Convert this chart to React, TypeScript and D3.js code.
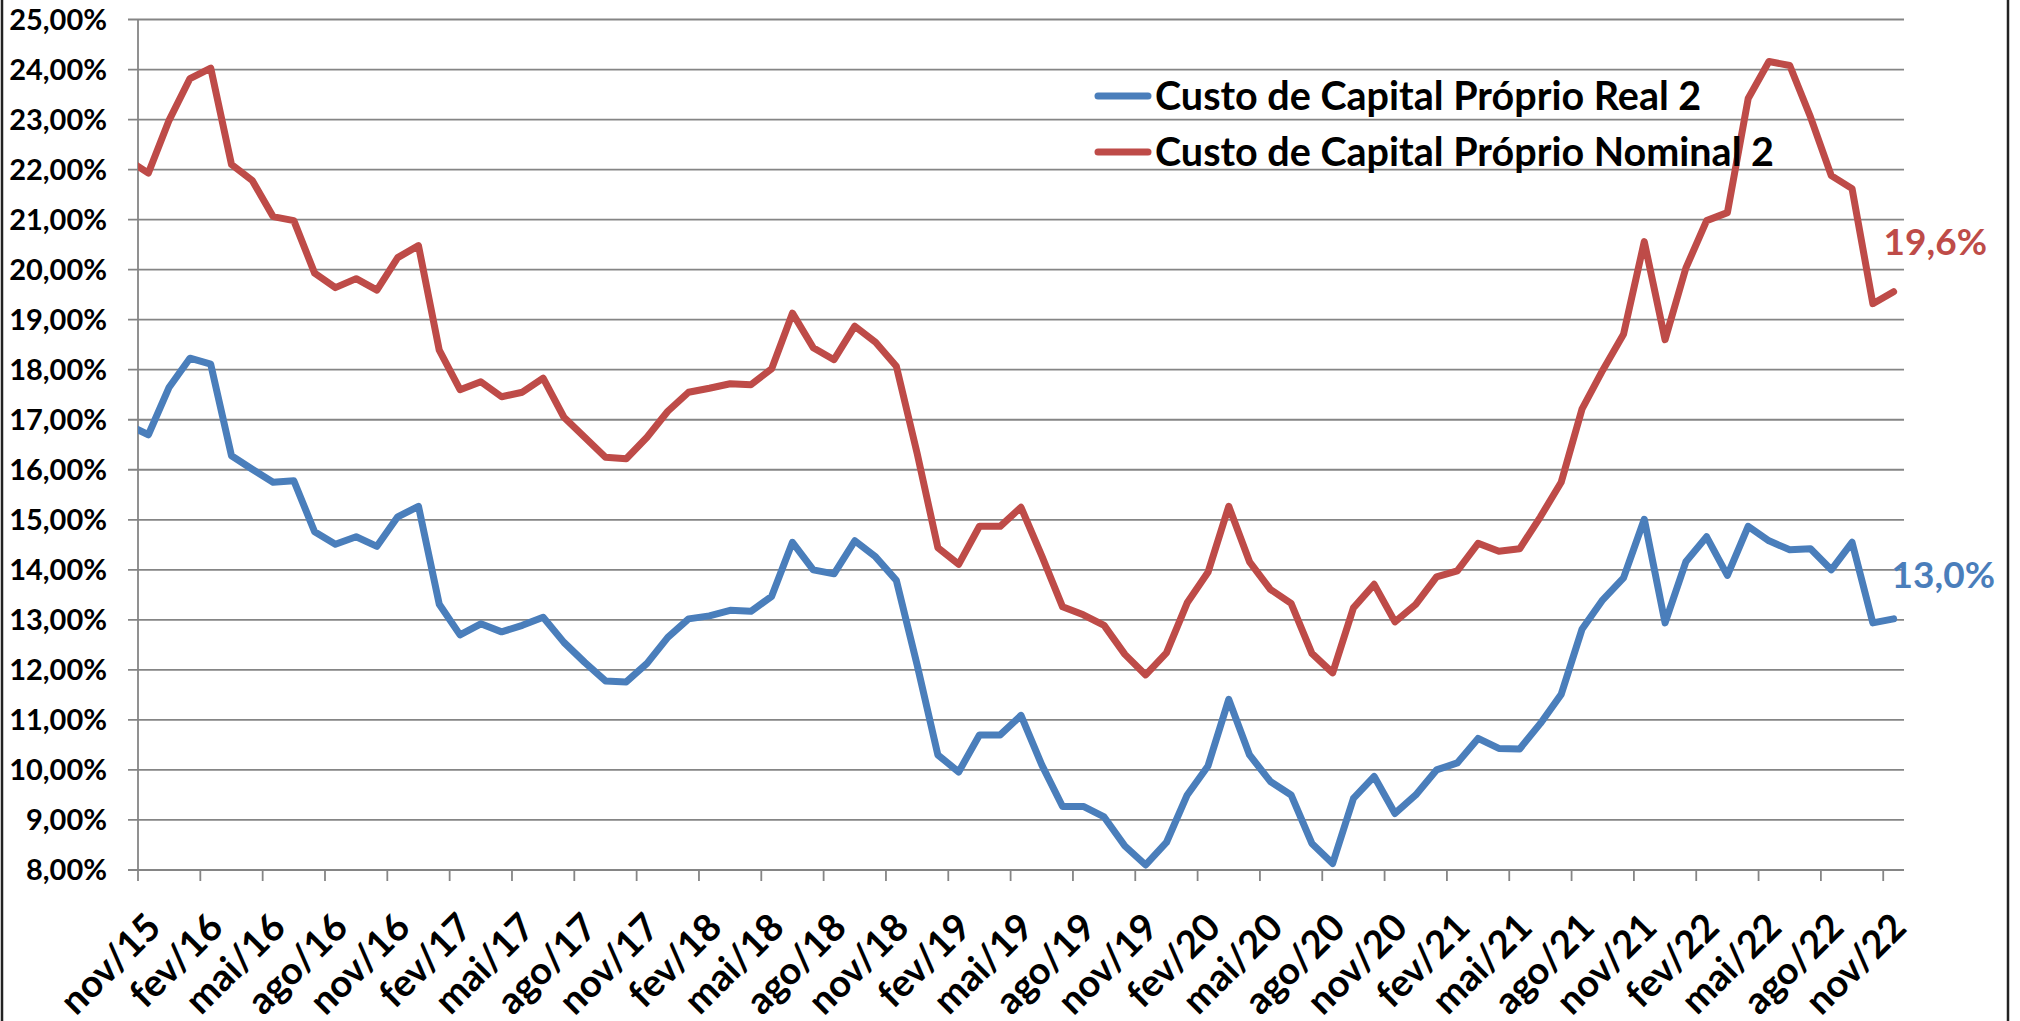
import { line, scaleLinear, format, range } from "d3";

// first value is out/15 (only a clipped stub of it shows at the left edge), then nov/15 .. nov/22
const nominal = [
  22.2, 21.93, 22.99, 23.82, 24.03, 22.1, 21.78, 21.06, 20.98, 19.93, 19.64, 19.82, 19.59,
  20.24, 20.48, 18.39, 17.6, 17.76, 17.46, 17.55, 17.83, 17.05, 16.65, 16.25, 16.22, 16.65,
  17.17, 17.55, 17.63, 17.72, 17.7, 18.02, 19.13, 18.44, 18.2, 18.87, 18.55, 18.07, 16.33,
  14.44, 14.11, 14.87, 14.87, 15.25, 14.28, 13.26, 13.1, 12.89, 12.31, 11.9, 12.34, 13.34,
  13.95, 15.27, 14.16, 13.61, 13.33, 12.33, 11.94, 13.24, 13.71, 12.96, 13.31, 13.86, 13.98,
  14.53, 14.37, 14.42, 15.06, 15.75, 17.21, 17.99, 18.71, 20.56, 18.6, 20.03, 20.98, 21.14,
  23.42, 24.16, 24.08, 23.05, 21.88, 21.62, 19.32, 19.56,
];
const real = [
  16.9, 16.7, 17.65, 18.23, 18.11, 16.28, 16.01, 15.75, 15.78, 14.76, 14.51, 14.66, 14.47,
  15.06, 15.27, 13.31, 12.7, 12.92, 12.76, 12.89, 13.05, 12.55, 12.15, 11.78, 11.76, 12.13,
  12.65, 13.02, 13.08, 13.19, 13.17, 13.47, 14.55, 14.0, 13.92, 14.58, 14.26, 13.79, 12.1,
  10.3, 9.96, 10.7, 10.7, 11.09, 10.1, 9.27, 9.27, 9.06, 8.48, 8.1, 8.55, 9.5, 10.08, 11.41,
  10.3, 9.77, 9.5, 8.53, 8.13, 9.43, 9.87, 9.13, 9.5, 10.0, 10.14, 10.63, 10.43, 10.42,
  10.93, 11.51, 12.81, 13.4, 13.84, 15.01, 12.94, 14.16, 14.66, 13.89, 14.87, 14.58, 14.4,
  14.42, 14.0, 14.55, 12.94, 13.02,
];
const tickLabels = [
  "nov/15", "fev/16", "mai/16", "ago/16", "nov/16", "fev/17", "mai/17", "ago/17", "nov/17",
  "fev/18", "mai/18", "ago/18", "nov/18", "fev/19", "mai/19", "ago/19", "nov/19", "fev/20",
  "mai/20", "ago/20", "nov/20", "fev/21", "mai/21", "ago/21", "nov/21", "fev/22", "mai/22",
  "ago/22", "nov/22",
];
const seriesNames = ["Custo de Capital Próprio Real 2", "Custo de Capital Próprio Nominal 2"];

const W = 2020;
const H = 1021;
const left = 138;
const right = 1904;
const top = 19.5;
const bottom = 870;
const blue = "#4A7EBB";
const red = "#BE4B48";
const grid = "#858585";
const font = "Lato, 'Open Sans', sans-serif";

export default function App() {
  const x = scaleLinear().domain([0.5, 85.5]).range([left, right]);
  const y = scaleLinear().domain([8, 25]).range([bottom, top]);
  const path = line<number>()
    .x((_, i) => x(i))
    .y((d) => y(d));
  const pct = (v: number) => format(".2f")(v).replace(".", ",") + "%";
  const lastLabel = (v: number) => format(".1f")(v).replace(".", ",") + "%";
  const last = nominal.length - 1;

  return (
    <>
      <style>{"body{margin:0}"}</style>
      <svg width={W} height={H} style={{ display: "block", fontFamily: font }}>
        <rect width={W} height={H} fill="white" />
        <defs>
          <clipPath id="plot">
            <rect x={left} y={0} width={right - left} height={H} />
          </clipPath>
        </defs>

        {/* horizontal gridlines + y labels */}
        {range(8, 26).map((v) => (
          <g key={v}>
            <line x1={left - 10} x2={right} y1={y(v)} y2={y(v)} stroke={grid} strokeWidth={1.8} />
            <text
              x={107}
              y={y(v)}
              dy="0.36em"
              textAnchor="end"
              fontSize={29}
              fontWeight="bold"
            >
              {pct(v)}
            </text>
          </g>
        ))}
        <line x1={left} x2={left} y1={top} y2={bottom} stroke={grid} strokeWidth={1.8} />

        {/* x ticks and labels */}
        {tickLabels.map((t, j) => {
          const k = 1 + j * 3;
          return (
            <g key={t}>
              <line
                x1={x(k - 0.5)}
                x2={x(k - 0.5)}
                y1={bottom}
                y2={bottom + 11}
                stroke={grid}
                strokeWidth={1.8}
              />
              <text
                transform={`translate(${x(k) + 5},${920}) rotate(-45)`}
                textAnchor="end"
                dy="0.36em"
                fontSize={38}
                fontWeight="bold"
              >
                {t}
              </text>
            </g>
          );
        })}

        {/* series */}
        <g clipPath="url(#plot)" fill="none" strokeWidth={7} strokeLinejoin="round" strokeLinecap="round">
          <path d={path(real) ?? ""} stroke={blue} />
          <path d={path(nominal) ?? ""} stroke={red} />
        </g>

        {/* end labels */}
        <text
          x={x(last) - 10}
          y={y(nominal[last]) - 50}
          dy="0.36em"
          fontSize={37}
          fontWeight="bold"
          fill={red}
        >
          {lastLabel(nominal[last])}
        </text>
        <text
          x={x(last) - 2}
          y={y(real[last]) - 44}
          dy="0.36em"
          fontSize={37}
          fontWeight="bold"
          fill={blue}
        >
          {lastLabel(real[last])}
        </text>

        {/* legend */}
        {seriesNames.map((n, i) => {
          const ly = 96 + i * 56;
          return (
            <g key={n}>
              <line
                x1={1098}
                x2={1148}
                y1={ly}
                y2={ly}
                stroke={i === 0 ? blue : red}
                strokeWidth={7}
                strokeLinecap="round"
              />
              <text x={1155} y={ly} dy="0.36em" fontSize={39.5} fontWeight="bold">
                {n}
              </text>
            </g>
          );
        })}

        {/* chart frame */}
        <line x1={2} x2={2} y1={0} y2={H} stroke="#222" strokeWidth={2.5} />
        <line x1={2008} x2={2008} y1={0} y2={H} stroke="#222" strokeWidth={2.5} />
      </svg>
    </>
  );
}
